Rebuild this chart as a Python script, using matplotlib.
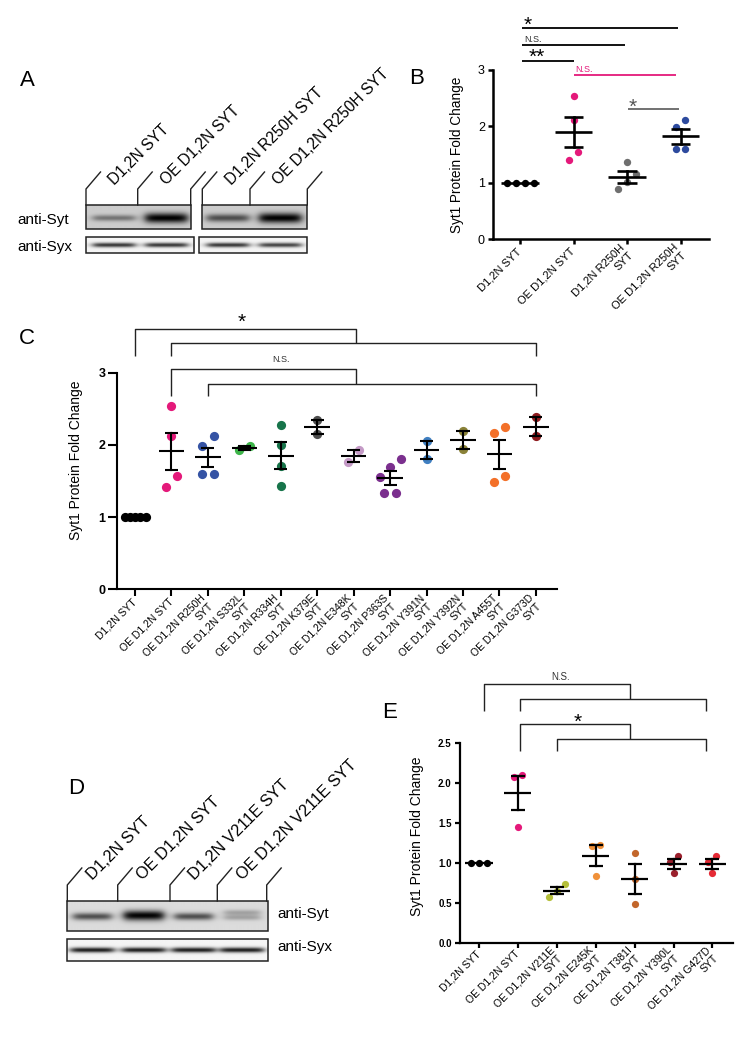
import numpy as np
import matplotlib
matplotlib.use("Agg")
import matplotlib.pyplot as plt
from matplotlib.patches import Rectangle

plt.rcParams['font.family'] = ['Liberation Sans', 'DejaVu Sans']
plt.rcParams['axes.unicode_minus'] = False

W, H = 752, 1045

# ---------------- data ----------------
b_labels = ["D1,2N SYT", "OE D1,2N SYT", "D1,2N R250H\nSYT", "OE D1,2N R250H\nSYT"]
b_values = [[1.0, 1.0, 1.0, 1.0],
            [2.54, 2.12, 1.55, 1.40],
            [1.37, 1.15, 1.02, 0.88],
            [2.11, 1.99, 1.59, 1.59]]
b_colors = ["#000000", "#E4197A", "#6F6F6F", "#2D4A9E"]
b_yticks = [0, 1, 2, 3]

c_labels = ["D1,2N SYT", "OE D1,2N SYT", "OE D1,2N R250H\nSYT", "OE D1,2N S332L\nSYT",
            "OE D1,2N R334H\nSYT", "OE D1,2N K379E\nSYT", "OE D1,2N E348K\nSYT",
            "OE D1,2N P363S\nSYT", "OE D1,2N Y391N\nSYT", "OE D1,2N Y392N\nSYT",
            "OE D1,2N A455T\nSYT", "OE D1,2N G373D\nSYT"]
c_values = [[1.0, 1.0, 1.0, 1.0, 1.0],
            [2.54, 2.12, 1.57, 1.41],
            [2.12, 1.99, 1.60, 1.60],
            [1.93, 1.98],
            [2.27, 2.00, 1.71, 1.43],
            [2.35, 2.15],
            [1.77, 1.93],
            [1.81, 1.70, 1.55, 1.33, 1.34],
            [2.05, 1.80],
            [2.19, 1.95],
            [2.25, 2.17, 1.57, 1.49],
            [2.38, 2.12]]
c_colors = ["#000000", "#E4197A", "#3553A4", "#3DB449", "#17744A", "#4D4D4D",
            "#C49AC6", "#7B2F8E", "#3F7FC1", "#8A8238", "#F37029", "#8E1B1E"]
c_yticks = [0, 1, 2, 3]

e_labels = ["D1,2N SYT", "OE D1,2N SYT", "OE D1,2N V211E\nSYT", "OE D1,2N E245K\nSYT",
            "OE D1,2N T381I\nSYT", "OE D1,2N Y390L\nSYT", "OE D1,2N G427D\nSYT"]
e_values = [[1.0, 1.0, 1.0],
            [2.11, 2.08, 1.45],
            [0.74, 0.65, 0.58],
            [1.23, 1.22, 0.84],
            [1.125, 0.80, 0.49],
            [1.09, 1.02, 0.875],
            [1.09, 1.02, 0.875]]
e_colors = ["#000000", "#E4197A", "#B5BF3A", "#F0913A", "#C2662B", "#9A1F2C", "#E52A35"]
e_yticks = [0.0, 0.5, 1.0, 1.5, 2.0, 2.5]
e_yticklabels = ["0.0", "0.5", "1.0", "1.5", "2.0", "2.5"]

blot_a_lanes = ["D1,2N SYT", "OE D1,2N SYT", "D1,2N R250H SYT", "OE D1,2N R250H SYT"]
blot_a_syt = [0.35, 0.80, 0.50, 0.80]
blot_a_syx = [0.75, 0.75, 0.75, 0.70]
blot_d_lanes = ["D1,2N SYT", "OE D1,2N SYT", "D1,2N V211E SYT", "OE D1,2N V211E SYT"]
blot_d_syt = [0.55, 0.85, 0.55, 0.22]
blot_d_syx = [0.85, 0.85, 0.85, 0.85]

# ---------------- figure ----------------
fig = plt.figure(figsize=(W / 100, H / 100), dpi=100)
bg = fig.add_axes([0, 0, 1, 1], zorder=0)
bg.set_xlim(0, W)
bg.set_ylim(H, 0)
bg.axis('off')


def px_rect(x0, y0, x1, y1):
    return [x0 / W, 1 - y1 / H, (x1 - x0) / W, (y1 - y0) / H]


def px_per_unit(ax):
    pos = ax.get_position()
    x0, x1 = ax.get_xlim()
    y0, y1 = ax.get_ylim()
    return pos.width * W / (x1 - x0), pos.height * H / (y1 - y0)


def swarm_x(ax, i, vals, spacing, maxspan, thresh):
    ppx, ppy = px_per_unit(ax)
    vals = np.asarray(vals, float)
    order = np.argsort(vals, kind='stable')
    clusters, cur = [], [order[0]]
    for a, b in zip(order[:-1], order[1:]):
        if (vals[b] - vals[a]) * ppy < thresh:
            cur.append(b)
        else:
            clusters.append(cur)
            cur = [b]
    clusters.append(cur)
    offs = np.zeros(len(vals))
    for cl in clusters:
        k = len(cl)
        sp = spacing if k == 1 else min(spacing, maxspan / (k - 1))
        for j, idx in enumerate(cl):
            offs[idx] = (j - (k - 1) / 2) * sp / ppx
    return i + offs


def dotplot(ax, values, colors, s, spacing, maxspan, thresh, lw):
    for i, (vals, col) in enumerate(zip(values, colors)):
        vals = np.asarray(vals, float)
        xs = swarm_x(ax, i, vals, spacing, maxspan, thresh)
        ax.scatter(xs, vals, s=s, color=col, linewidths=0, zorder=2, clip_on=False)
        m = vals.mean()
        sem = vals.std(ddof=1) / np.sqrt(len(vals))
        ax.plot([i - 0.35, i + 0.35], [m, m], color='k', lw=lw, zorder=3,
                solid_capstyle='butt', clip_on=False)
        if sem > 0.005:
            ax.plot([i, i], [m - sem, m + sem], color='k', lw=lw, zorder=3, clip_on=False)
            for v in (m - sem, m + sem):
                ax.plot([i - 0.18, i + 0.18], [v, v], color='k', lw=lw, zorder=3,
                        solid_capstyle='butt', clip_on=False)


def style(ax, labels, spine_lw, xticklen, yticklen, yfs, ybold, xfs, pad):
    for sp in ('top', 'right'):
        ax.spines[sp].set_visible(False)
    for sp in ('left', 'bottom'):
        ax.spines[sp].set_linewidth(spine_lw)
    ax.tick_params(axis='x', direction='out', length=xticklen, width=spine_lw)
    ax.tick_params(axis='y', direction='out', length=yticklen, width=spine_lw, labelsize=yfs, pad=2)
    if ybold:
        for t in ax.get_yticklabels():
            t.set_fontweight('bold')
    ax.set_xticks(range(len(labels)))
    ax.set_xticklabels(labels, rotation=45, ha='right', va='center',
                       rotation_mode='anchor', fontsize=xfs)
    ax.tick_params(axis='x', pad=pad)
    ax.patch.set_alpha(0)


def bracket_line(ax, xs, ys, color='#222222', lw=1.0):
    ax.plot(xs, ys, color=color, lw=lw, clip_on=False, solid_capstyle='butt', zorder=4)


# ---------------- Panel B ----------------
axB = fig.add_axes(px_rect(492.7, 70, 709, 239))
axB.set_xlim(-0.51, 3.53)
axB.set_ylim(0, 3)
axB.set_yticks(b_yticks)
style(axB, b_labels, 1.8, 3.6, 3.6, 9, False, 8, 4)
dotplot(axB, b_values, b_colors, 28, 9, 27, 8.7, 1.9)
bg.text(457, 155, "Syt1 Protein Fold Change", rotation=90, ha='center', va='center', fontsize=9.8)
# significance
bracket_line(axB, [0.03, 2.95], [3.74, 3.74], 'k', 1.3)
bracket_line(axB, [0.03, 1.97], [3.44, 3.44], 'k', 1.3)
bracket_line(axB, [0.03, 1.0], [3.16, 3.16], 'k', 1.3)
bracket_line(axB, [1.0, 2.91], [2.91, 2.91], '#E4197A', 1.3)
bracket_line(axB, [2.01, 2.97], [2.30, 2.30], '#666666', 1.3)
axB.text(0.15, 3.80, "*", ha='center', va='center', fontsize=15, clip_on=False)
axB.text(0.25, 3.55, "N.S.", ha='center', va='center', fontsize=6.5, color='#333333', clip_on=False)
axB.text(0.31, 3.22, "**", ha='center', va='center', fontsize=15, clip_on=False)
axB.text(1.19, 3.00, "N.S.", ha='center', va='center', fontsize=6.5, color='#E4197A', clip_on=False)
axB.text(2.11, 2.33, "*", ha='center', va='center', fontsize=15, color='#555555', clip_on=False)

# ---------------- Panel C ----------------
axC = fig.add_axes(px_rect(117.3, 372.7, 556.7, 589.3))
axC.set_xlim(-0.486, 11.57)
axC.set_ylim(0, 3)
axC.set_yticks(c_yticks)
style(axC, c_labels, 1.5, 5, 6.5, 9, True, 7.5, 3)
dotplot(axC, c_values, c_colors, 44, 11.5, 21, 12, 1.5)
bg.text(76, 460, "Syt1 Protein Fold Change", rotation=90, ha='center', va='center', fontsize=10)
# brackets
bracket_line(axC, [0, 0, 6.05, 6.05], [3.235, 3.605, 3.605, 3.407])
bracket_line(axC, [1, 1, 11, 11], [3.235, 3.407, 3.407, 3.235])
bracket_line(axC, [1, 1, 6.05, 6.05], [2.677, 3.051, 3.051, 2.843])
bracket_line(axC, [2, 2, 11, 11], [2.677, 2.843, 2.843, 2.677])
axC.text(2.94, 3.70, "*", ha='center', va='center', fontsize=15, clip_on=False)
axC.text(4.0, 3.18, "N.S.", ha='center', va='center', fontsize=6.5, color='#333333', clip_on=False)

# ---------------- Panel E ----------------
axE = fig.add_axes(px_rect(459.5, 743.3, 732.7, 943.3))
axE.set_xlim(-0.5, 6.52)
axE.set_ylim(0, 2.5)
axE.set_yticks(e_yticks)
axE.set_yticklabels(e_yticklabels)
style(axE, e_labels, 1.6, 3.6, 3.6, 7, True, 7.5, 3)
dotplot(axE, e_values, e_colors, 27, 8, 16, 10, 1.6)
bg.text(416.7, 836, "Syt1 Protein Fold Change", rotation=90, ha='center', va='center', fontsize=10)
bracket_line(axE, [0.136, 0.136, 3.89, 3.89], [2.904, 3.245, 3.245, 3.05])
bracket_line(axE, [1.05, 1.05, 5.83, 5.83], [2.904, 3.05, 3.05, 2.904])
bracket_line(axE, [1.05, 1.05, 3.89, 3.89], [2.404, 2.741, 2.741, 2.554])
bracket_line(axE, [2.0, 2.0, 5.83, 5.83], [2.404, 2.554, 2.554, 2.404])
axE.text(2.1, 3.325, "N.S.", ha='center', va='center', fontsize=7, color='#333333', clip_on=False)
axE.text(2.545, 2.76, "*", ha='center', va='center', fontsize=15, clip_on=False)


# ---------------- blots ----------------
def draw_blot(x0, x1, y0, y1, bgval, bands):
    nx = max(int((x1 - x0) * 3), 2)
    ny = max(int((y1 - y0) * 3), 2)
    X, Y = np.meshgrid(np.linspace(x0, x1, nx), np.linspace(y0, y1, ny))
    img = np.full(X.shape, bgval)
    for cx, w, cy, sg, it in bands:
        prx = 1 / (1 + np.exp((np.abs(X - cx) - w / 2) / 2.5))
        pry = np.exp(-0.5 * ((Y - cy) / sg) ** 2)
        img = img - it * prx * pry
    img = np.clip(img, 0, 1)
    bg.imshow(img, cmap='gray', vmin=0, vmax=1, extent=(x0, x1, y1, y0), origin='upper',
              interpolation='bilinear', aspect='auto')
    bg.add_patch(Rectangle((x0, y0), x1 - x0, y1 - y0, fill=False, ec='#222222', lw=1.1))


def lane_marks(xs, top):
    for x in xs:
        bg.plot([x, x, x + 14.5], [top, top - 16, top - 33], color='#222222', lw=1.0,
                solid_joinstyle='miter')


# Panel A
a_div = [86, 137.7, 190.7, 202.3, 250, 307.3]
a_lanes = [(86, 137.7), (137.7, 190.7), (202.3, 250), (250, 307.3)]
a_cent = [(l + r) / 2 + 2 for l, r in a_lanes]
a_thick = [2.2, 3.6, 2.8, 3.6]
draw_blot(86, 190.7, 205, 229, 0.80,
          [(a_cent[i], 42, 218, a_thick[i], blot_a_syt[i]) for i in range(2)])
draw_blot(202.3, 307.3, 205, 229, 0.80,
          [(a_cent[i], 42, 218, a_thick[i], blot_a_syt[i]) for i in range(2, 4)])
draw_blot(86, 194.3, 237.3, 252.7, 0.96,
          [(a_cent[i], 42, 245, 1.6, blot_a_syx[i]) for i in range(2)])
draw_blot(199.3, 307.3, 237.3, 252.7, 0.96,
          [(a_cent[i], 42, 245, 1.6, blot_a_syx[i]) for i in range(2, 4)])
lane_marks(a_div, 205)
for (l, r), name in zip(a_lanes, blot_a_lanes):
    bg.text(l + 29, 186, name, rotation=45, ha='left', va='baseline',
            rotation_mode='anchor', fontsize=11.2)
bg.text(17, 220, "anti-Syt", ha='left', va='center', fontsize=11)
bg.text(17, 247, "anti-Syx", ha='left', va='center', fontsize=11)

# Panel D
d_div = [67.3, 117.7, 170, 217.3, 266.7]
d_lanes = list(zip(d_div[:-1], d_div[1:]))
d_cent = [(l + r) / 2 for l, r in d_lanes]
d_bands = [(d_cent[0], 38, 916.5, 2.6, blot_d_syt[0]),
           (d_cent[1], 40, 915.5, 3.6, blot_d_syt[1]),
           (d_cent[2], 38, 916.5, 2.6, blot_d_syt[2]),
           (d_cent[3], 36, 912.5, 2.0, blot_d_syt[3]),
           (d_cent[3], 36, 917.5, 2.0, blot_d_syt[3])]
draw_blot(67.3, 267.7, 901, 931, 0.86, d_bands)
draw_blot(67.3, 267.7, 939.3, 960.7, 0.96,
          [(d_cent[i], 43, 950, 1.8, blot_d_syx[i]) for i in range(4)])
lane_marks(d_div, 901)
for (l, r), name in zip(d_lanes, blot_d_lanes):
    bg.text(l + 25, 880.7, name, rotation=45, ha='left', va='baseline',
            rotation_mode='anchor', fontsize=11.7)
bg.text(277.7, 914, "anti-Syt", ha='left', va='center', fontsize=11)
bg.text(277.7, 947, "anti-Syx", ha='left', va='center', fontsize=11)

bg.set_xlim(0, W)
bg.set_ylim(H, 0)

# panel letters
for letter, (x, y) in zip("ABCDE", [(27, 80), (416.5, 79), (26.4, 338), (76, 788), (390, 712)]):
    bg.text(x, y, letter, ha='center', va='center', fontsize=16)

fig.savefig("out.png", dpi=100)
